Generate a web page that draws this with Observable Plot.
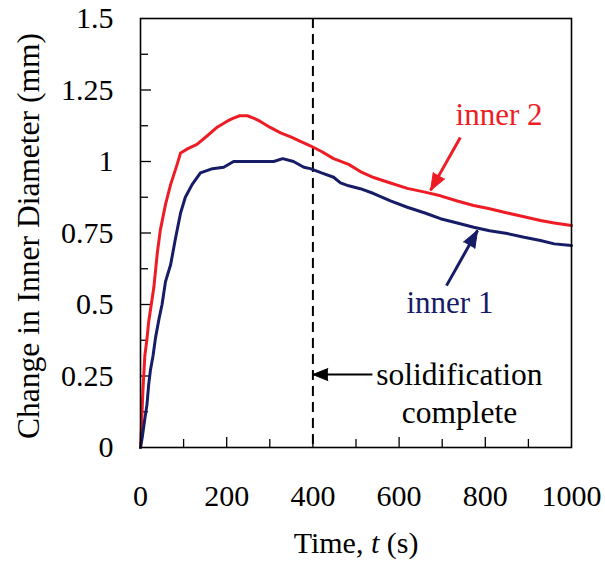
<!DOCTYPE html>
<html>
<head>
<meta charset="utf-8">
<script src="https://cdn.jsdelivr.net/npm/d3@7"></script>
<script src="https://cdn.jsdelivr.net/npm/@observablehq/plot@0.6"></script>
<style>
  html, body { margin: 0; padding: 0; background: #fff; }
  #chart svg { display: block; }
  #chart svg, #chart svg text, #chart svg g { font-family: "Liberation Serif" !important; }
</style>
</head>
<body>
<div id="chart"></div>
<script>
// ---- data ----
const inner1Time  = [0, 4, 10, 15, 19, 23, 29, 35, 43, 50, 58, 70, 81, 93, 104, 120, 139, 167, 193, 216, 255, 290, 309, 330, 355, 379, 394, 420, 448, 464, 483, 510, 541, 580, 619, 660, 696, 735, 773, 810, 851, 890, 928, 960, 1000];
const inner1Value = [0, 0.035, 0.10, 0.15, 0.22, 0.27, 0.32, 0.385, 0.45, 0.50, 0.58, 0.64, 0.73, 0.82, 0.875, 0.92, 0.96, 0.975, 0.98, 1.0, 1.0, 1.0, 1.0, 1.01, 1.0, 0.98, 0.975, 0.96, 0.945, 0.925, 0.915, 0.905, 0.888, 0.862, 0.84, 0.82, 0.80, 0.785, 0.77, 0.758, 0.748, 0.735, 0.724, 0.712, 0.706];

const inner2Time  = [0, 2, 5, 10, 15, 19, 23, 31, 39, 46, 58, 70, 85, 93, 110, 131, 155, 178, 200, 213, 230, 248, 265, 278, 300, 325, 350, 371, 394, 420, 448, 483, 510, 541, 580, 619, 660, 696, 735, 773, 810, 851, 890, 928, 960, 1000];
const inner2Value = [0, 0.06, 0.18, 0.32, 0.38, 0.44, 0.48, 0.56, 0.68, 0.76, 0.85, 0.92, 0.99, 1.03, 1.045, 1.06, 1.09, 1.12, 1.14, 1.15, 1.16, 1.16, 1.15, 1.14, 1.12, 1.10, 1.085, 1.07, 1.055, 1.035, 1.01, 0.99, 0.965, 0.944, 0.925, 0.906, 0.893, 0.88, 0.862, 0.846, 0.835, 0.82, 0.807, 0.794, 0.785, 0.776];

const xTickValues  = [0, 200, 400, 600, 800, 1000];
const xMinorValues = [100, 300, 500, 700, 900];
const yTickValues  = [0, 0.25, 0.5, 0.75, 1, 1.25, 1.5];
const yMinorValues = [0.125, 0.375, 0.625, 0.875, 1.125, 1.375];

const solidificationTime = [400];

const seriesNames  = ["inner 1", "inner 2"];
const seriesColors = ["#161c66", "#ee1c25"];

// label anchor positions (data units)
const labelTime  = [718, 832];
const labelValue = [0.469, 1.129];
// pointer arrows: start -> tip (data units)
const arrowStartTime  = [710, 742];
const arrowStartValue = [0.566, 1.084];
const arrowTipTime    = [782, 673];
const arrowTipValue   = [0.759, 0.899];
const arrowAngle      = [29.4, 209.5];

// solidification note
const noteText  = ["solidification\ncomplete"];
const noteTime  = [740];
const noteValue = [0.087];
const noteArrowStart = [538];
const noteArrowValue = [0.255];

// ---- build tables ----
const inner1 = inner1Time.map((t, i) => ({t, v: inner1Value[i]}));
const inner2 = inner2Time.map((t, i) => ({t, v: inner2Value[i]}));
const labels = seriesNames.map((name, i) => ({name, color: seriesColors[i], t: labelTime[i], v: labelValue[i]}));
const pointers = seriesNames.map((name, i) => ({
  color: seriesColors[i],
  x1: arrowStartTime[i], y1: arrowStartValue[i],
  x2: arrowTipTime[i], y2: arrowTipValue[i], angle: arrowAngle[i]
}));
const note = noteText.map((text, i) => ({text, t: noteTime[i], v: noteValue[i]}));
const noteArrow = solidificationTime.map((t, i) => ({x1: noteArrowStart[i], x2: t, y: noteArrowValue[i]}));

const W = 605, H = 563, ML = 140, MR = 34, MT = 18, MB = 116;
const FW = W - ML - MR, FH = H - MT - MB;

const plot = Plot.plot({
  width: W,
  height: H,
  marginLeft: ML,
  marginRight: MR,
  marginTop: MT,
  marginBottom: MB,
  style: {fontFamily: "Liberation Serif", fontSize: "30px", color: "#000", background: "#fff"},
  x: {domain: [0, 1000]},
  y: {domain: [0, 1.5]},
  marks: [
    Plot.axisX({ticks: xTickValues, tickSize: 0, tickPadding: 37, label: null, tickFormat: d => String(d)}),
    Plot.axisY({ticks: yTickValues, tickSize: 0, tickPadding: 27, label: null, tickFormat: d => String(d)}),
    // inward ticks
    Plot.tickX(xTickValues.slice(1, -1), {x: d => d, insetTop: FH - 10, stroke: "#000", strokeWidth: 1.3}),
    Plot.tickX(xMinorValues, {x: d => d, insetTop: FH - 8, stroke: "#000", strokeWidth: 1.3}),
    Plot.tickY(yTickValues.slice(1, -1), {y: d => d, insetRight: FW - 11, stroke: "#000", strokeWidth: 1.3}),
    Plot.tickY(yMinorValues, {y: d => d, insetRight: FW - 8, stroke: "#000", strokeWidth: 1.3}),
    // solidification line
    Plot.ruleX(solidificationTime, {x: d => d, stroke: "#000", strokeWidth: 2, strokeDasharray: "10,6"}),
    // series
    Plot.line(inner2, {x: "t", y: "v", stroke: seriesColors[1], strokeWidth: 3}),
    Plot.line(inner1, {x: "t", y: "v", stroke: seriesColors[0], strokeWidth: 3}),
    Plot.frame({stroke: "#000", strokeWidth: 1.6}),
    // series labels and pointers
    Plot.text(labels, {x: "t", y: "v", text: "name", fill: d => d.color, textAnchor: "middle", lineAnchor: "bottom", fontSize: 31}),
    Plot.link(pointers, {x1: "x1", y1: "y1", x2: "x2", y2: "y2", stroke: d => d.color, strokeWidth: 3}),
    Plot.vector(pointers, {x: "x2", y: "y2", rotate: "angle", length: 17, r: 6.5, shape: "spike", anchor: "end", fill: d => d.color, stroke: d => d.color, strokeWidth: 1}),
    // solidification note
    Plot.text(note, {x: "t", y: "v", text: "text", textAnchor: "middle", lineAnchor: "bottom", lineHeight: 1.2, fontSize: 31.5, fill: "#000"}),
    Plot.link(noteArrow, {x1: "x1", x2: "x2", y1: "y", y2: "y", stroke: "#000", strokeWidth: 2}),
    Plot.vector(noteArrow, {x: "x2", y: "y", rotate: -90, length: 15, r: 6, shape: "spike", anchor: "end", fill: "#000", stroke: "#000", strokeWidth: 1}),
    // axis titles
    Plot.text(["Change in Inner Diameter (mm)"], {frameAnchor: "left", text: d => d, rotate: -90, dx: -112, dy: 3, textAnchor: "middle", lineAnchor: "middle", fontSize: 31.5, fill: "#000"}),
    Plot.text(["Time, t (s)"], {frameAnchor: "bottom", text: d => d, dy: 105, textAnchor: "middle", lineAnchor: "bottom", fill: "#000"})
  ]
});

// italicise the variable t in the x-axis title
d3.select(plot).selectAll("text").filter(function () { return this.textContent === "Time, t (s)"; })
  .each(function () {
    const el = d3.select(this);
    el.text(null);
    el.append("tspan").text("Time, ");
    el.append("tspan").attr("font-style", "italic").text("t");
    el.append("tspan").text(" (s)");
  });

document.getElementById("chart").appendChild(plot);
</script>
</body>
</html>
